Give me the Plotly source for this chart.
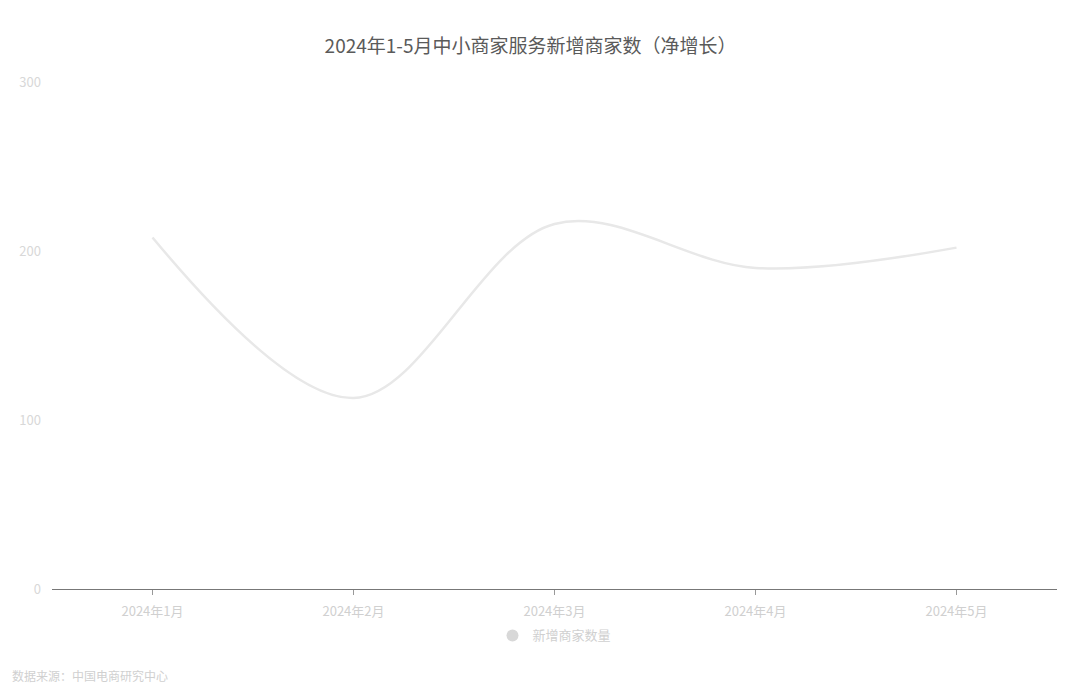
import plotly.graph_objects as go

months = ["2024年1月", "2024年2月", "2024年3月", "2024年4月", "2024年5月"]
net_new = [208, 113, 216, 190, 202]
y_ticks = [0, 100, 200, 300]

title_text = "2024年1-5月中小商家服务新增商家数（净增长）"
series_name = "新增商家数量"
source_text = "数据来源：中国电商研究中心"

font_family = "Noto Sans CJK SC, sans-serif"

fig = go.Figure()
fig.add_trace(go.Scatter(
    x=months, y=net_new, mode="lines", name=series_name,
    line=dict(color="#e8e8e8", width=2.5, shape="spline", smoothing=1.0),
    showlegend=False,
))
# legend entry with circle marker
fig.add_trace(go.Scatter(
    x=[None], y=[None], mode="markers", name=series_name,
    marker=dict(color="#d8d8d8", size=11, symbol="circle"),
    showlegend=True,
))

fig.update_layout(
    width=1074, height=699,
    paper_bgcolor="white", plot_bgcolor="white",
    margin=dict(l=52, r=17, t=82, b=110),
    font=dict(family=font_family, color="#cccccc", size=12),
    title=dict(text=title_text, x=0.494, xanchor="center", y=0.933, yanchor="middle",
               font=dict(size=19, color="#5a5a5a", family=font_family)),
    xaxis=dict(
        type="category", range=[-0.5, 4.5], showgrid=False,
        showline=True, linecolor="#777777", linewidth=1,
        ticks="outside", ticklen=5, tickcolor="#999999",
        tickfont=dict(size=13, color="#d0d0d0"),
        ticklabelstandoff=5,
    ),
    yaxis=dict(
        range=[0, 300], tickvals=y_ticks, showgrid=False, zeroline=False,
        showline=False, tickfont=dict(size=13, color="#d8d8d8"),
        ticklabelstandoff=10,
    ),
    legend=dict(orientation="h", x=0.5, xanchor="center", y=-0.062, yanchor="top",
                font=dict(size=13, color="#d0d0d0"), itemsizing="constant"),
    showlegend=True,
)

fig.add_annotation(text=source_text, xref="paper", yref="paper", x=-0.042, y=-0.17,
                   xanchor="left", yanchor="middle", showarrow=False,
                   font=dict(size=12, color="#d0d0d0", family=font_family))

fig.write_html("out.html")
